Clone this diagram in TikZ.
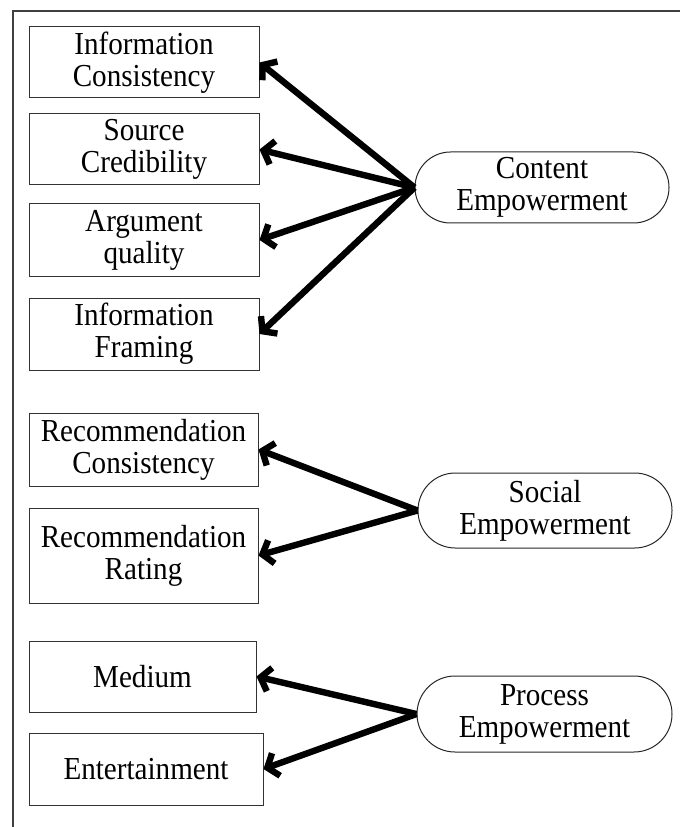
\documentclass[tikz,border=0pt]{standalone}
\usepackage{fontspec}
\setmainfont{Liberation Serif}[FakeStretch=0.91]
\usetikzlibrary{arrows.meta}
\tikzset{
  boxnode/.style={draw=black!80, line width=0.75pt, rectangle, inner sep=0pt, align=center,
    font=\fontsize{24}{24}\selectfont},
  pillnode/.style={draw=black!85, line width=0.75pt, rectangle, inner sep=0pt, align=center,
    font=\fontsize{24}{24}\selectfont},
  arr/.style={line width=4.8pt, -{Straight Barb[length=7pt,width=18pt]}},
  framel/.style={draw=black!75, line width=1.2pt}
}
\begin{document}
\begin{tikzpicture}[x=0.75pt,y=-0.75pt]
\useasboundingbox (0,0) rectangle (680,827);
\draw[framel] (13,827) -- (13,11) -- (680,11);
% boxes
\node[boxnode, minimum width=172.5pt, minimum height=53.25pt] (b1) at (144,62.5) {Information\\Consistency};
\node[boxnode, minimum width=172.5pt, minimum height=53.25pt] (b2) at (144,149.5) {Source\\Credibility};
\node[boxnode, minimum width=172.5pt, minimum height=54pt] (b3) at (144,240) {Argument\\quality};
\node[boxnode, minimum width=172.5pt, minimum height=54pt] (b4) at (144,334) {Information\\Framing};
\node[boxnode, minimum width=171.75pt, minimum height=54.75pt] (b5) at (143.5,449.5) {Recommendation\\Consistency};
\node[boxnode, minimum width=171.75pt, minimum height=71.25pt] (b6) at (143.5,555.5) {Recommendation\\Rating};
\node[boxnode, minimum width=170.25pt, minimum height=53.25pt] (b7) at (142.5,676.5) {Medium};
\node[boxnode, minimum width=175.5pt, minimum height=54pt] (b8) at (146,769) {Entertainment};
% pills
\node[pillnode, rounded corners=26.6pt, minimum width=190.5pt, minimum height=53.25pt] (ce) at (542,187.5) {Content\\Empowerment};
\node[pillnode, rounded corners=28pt, minimum width=190.5pt, minimum height=56.25pt] (se) at (545,510.5) {Social\\Empowerment};
\node[pillnode, rounded corners=28.5pt, minimum width=191.25pt, minimum height=57pt] (pe) at (544.5,714) {Process\\Empowerment};
% arrows
\draw[arr] (ce.west) -- (b1.east);
\draw[arr] (ce.west) -- (b2.east);
\draw[arr] (ce.west) -- (b3.east);
\draw[arr] (ce.west) -- (b4.east);
\draw[arr] (se.west) -- (b5.east);
\draw[arr] (se.west) -- (b6.east);
\draw[arr] (pe.west) -- (b7.east);
\draw[arr] (pe.west) -- (b8.east);
\end{tikzpicture}
\end{document}
